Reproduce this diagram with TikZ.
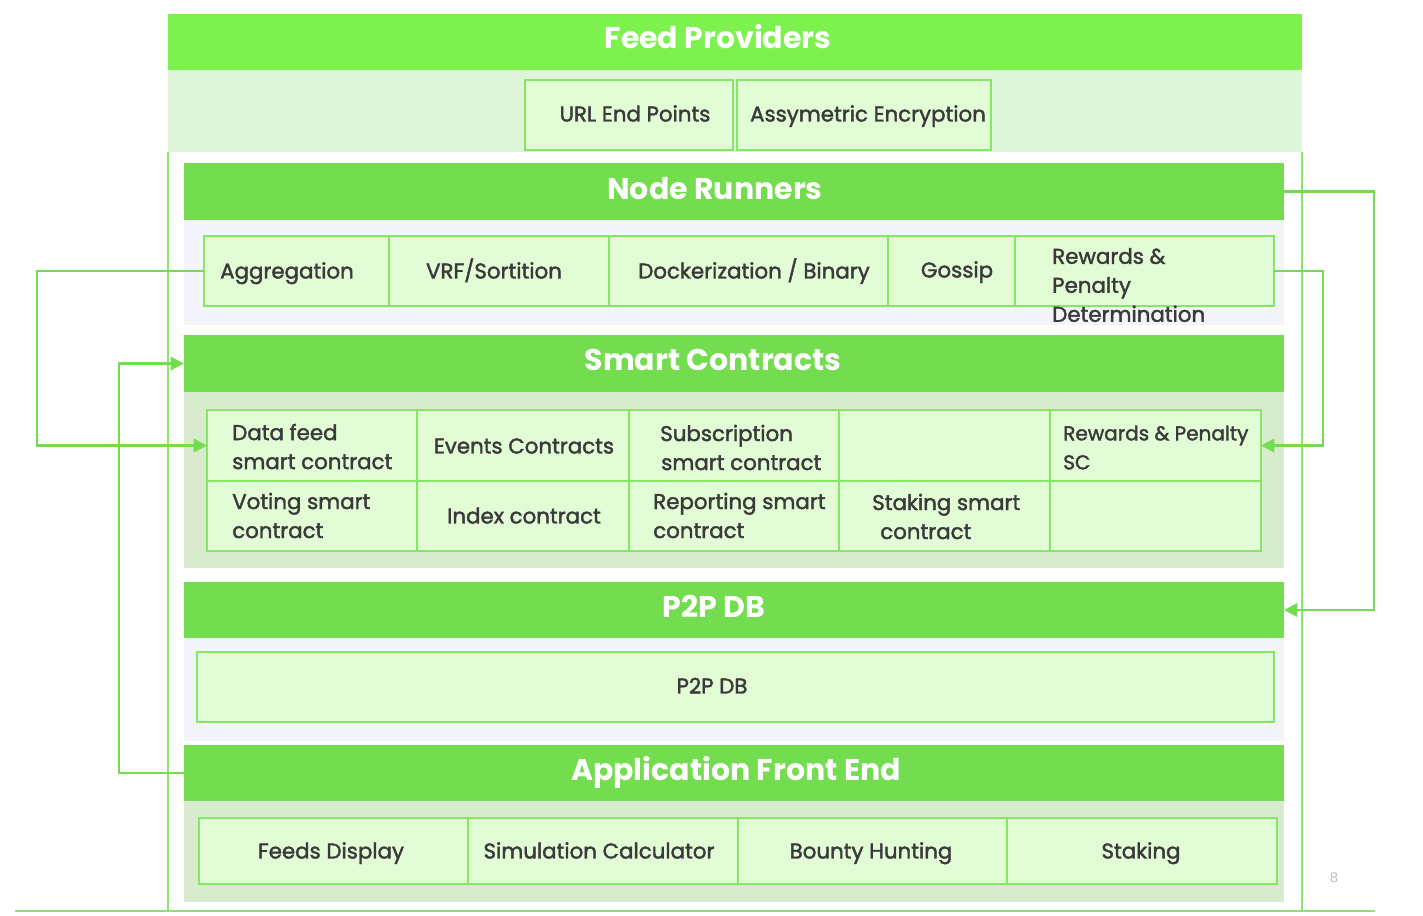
\documentclass[tikz,border=0pt]{standalone}
\usepackage{fontspec}
\setmainfont{Poppins}
\newfontfamily\medfont{Poppins}[FakeBold=1.8]
\usetikzlibrary{arrows.meta}
\definecolor{hdrA}{HTML}{7DF24F}
\definecolor{hdr}{HTML}{74DC4F}
\definecolor{bandA}{HTML}{DFF5D9}
\definecolor{bandL}{HTML}{F3F5FA}
\definecolor{bandG}{HTML}{D9EBCF}
\definecolor{cellF}{HTML}{E2FDD6}
\definecolor{cellD}{HTML}{86E766}
\definecolor{txt}{HTML}{3A3A3A}
\definecolor{lineG}{HTML}{74DC4F}
\definecolor{frameG}{HTML}{8CE470}
\newcommand{\bx}[7][]{\node[#1, anchor=north west, minimum width={(#5-#3)*0.75pt}, minimum height={(#6-#4)*0.75pt}] (#2) at (#3,#4) {#7};}
\tikzset{
  hdrbox/.style={fill=hdr, draw=none, inner sep=0pt, outer sep=0pt},
  band/.style={draw=none, inner sep=0pt, outer sep=0pt},
  cell/.style={fill=cellF, draw=cellD, line width=1.4pt, inner sep=0pt, outer sep=0pt, text=txt, text height=11.2pt, text depth=0pt, font=\medfont\fontsize{16}{21.75}\selectfont},
  hdrtxt/.style={text=white, inner sep=0pt, text height=16pt, text depth=0pt, font=\fontsize{22.5}{28}\selectfont\bfseries},
  ltxt/.style={anchor=west, align=left, inner sep=0pt, text=txt, font=\medfont\fontsize{16}{21.75}\selectfont},
  ctxt/.style={anchor=center, inner sep=0pt, text=txt, text height=11.2pt, text depth=0pt, font=\medfont\fontsize{16}{21.75}\selectfont},
  frameln/.style={draw=frameG, line width=1.3pt},
  conn/.style={draw=lineG, line width=2pt, -{Triangle[length=10pt,width=10pt]}}
}
\begin{document}
\begin{tikzpicture}[x=0.75pt, y=-0.75pt]
\useasboundingbox (0,0) rectangle (1423,915);
% Feed providers
\bx[hdrbox, fill=hdrA]{fp}{168}{14}{1302}{70}{}
\node[hdrtxt] (fpT) at (718,38) {Feed Providers};
\bx[band, fill=bandA]{fpband}{168}{70}{1302}{152}{}
\bx[cell]{url}{525}{80}{733}{150}{}
\node[ctxt] (urlT) at (635,114) {URL End Points};
\bx[cell]{enc}{737}{80}{991}{150}{}
\node[ctxt] (encT) at (868,114) {Assymetric Encryption};
% frame
\coordinate (fl) at (168,911);
\coordinate (fr) at (1302,911);
\coordinate (b1) at (15,911);
\coordinate (b2) at (1375,911);
\draw[frameln] (fpband.south west) -- (fl);
\draw[frameln] (fpband.south east) -- (fr);
\draw[frameln] (b1) -- (b2);
% Node runners
\bx[hdrbox]{nr}{184}{163}{1284}{220}{}
\node[hdrtxt] (nrT) at (715,189) {Node Runners};
\bx[band, fill=bandL]{nrband}{184}{220}{1284}{325}{}
\bx[cell]{agg}{204}{236}{389}{306}{}
\bx[cell]{vrf}{389}{236}{609}{306}{}
\bx[cell]{dock}{609}{236}{888}{306}{}
\bx[cell]{gos}{888}{236}{1015}{306}{}
\bx[cell]{rpd}{1015}{236}{1274}{306}{}
\node[ctxt] (aggT) at (287,271) {Aggregation};
\node[ctxt] (vrfT) at (494,271) {VRF/Sortition};
\node[ctxt] (dockT) at (754,271) {Dockerization / Binary};
\node[ctxt] (gosT) at (957,270) {Gossip};
\node[ltxt] (rpdT) at (1052,285) {Rewards \&\\Penalty\\Determination};
% Smart contracts
\bx[hdrbox]{sc}{184}{335}{1284}{392}{}
\node[hdrtxt] (scT) at (713,360) {Smart Contracts};
\bx[band, fill=bandG]{scband}{184}{392}{1284}{568}{}
\bx[cell]{sc11}{207}{410}{417}{481}{}
\bx[cell]{sc12}{417}{410}{629}{481}{}
\bx[cell]{sc13}{629}{410}{839}{481}{}
\bx[cell]{sc14}{839}{410}{1050}{481}{}
\bx[cell]{sc15}{1050}{410}{1261}{481}{}
\bx[cell]{sc21}{207}{481}{417}{551}{}
\bx[cell]{sc22}{417}{481}{629}{551}{}
\bx[cell]{sc23}{629}{481}{839}{551}{}
\bx[cell]{sc24}{839}{481}{1050}{551}{}
\bx[cell]{sc25}{1050}{481}{1261}{551}{}
\node[ctxt] (t12) at (524,446) {Events Contracts};
\node[ctxt] (t22) at (524,516) {Index contract};
\node[ltxt] (t11) at (232,446.5) {Data feed\\smart contract};
\node[ltxt] (t13) at (660,447.5) {Subscription\\\hspace{0.75pt}smart contract};
\node[ltxt, font=\medfont\fontsize{15}{21.75}\selectfont] (t15) at (1063,447.5) {Rewards \& Penalty\\SC};
\node[ltxt] (t21) at (232,515.5) {Voting smart\\contract};
\node[ltxt] (t23) at (653,515.5) {Reporting smart\\contract};
\node[ltxt] (t24) at (872,516.5) {Staking smart\\\hspace{6pt}contract};
% P2P DB
\bx[hdrbox]{p2p}{184}{582}{1284}{638}{}
\node[hdrtxt] (p2pT) at (714,607) {P2P DB};
\bx[band, fill=bandL]{p2pband}{184}{638}{1284}{741}{}
\bx[cell, line width=1pt]{p2pbox}{197}{652}{1274}{722}{}
\node[ctxt] (p2pboxT) at (712,686) {P2P DB};
% Application front end
\bx[hdrbox]{app}{184}{745}{1284}{801}{}
\node[hdrtxt] (appT) at (736,770) {Application Front End};
\bx[band, fill=bandG]{appband}{184}{801}{1284}{902}{}
\bx[cell]{fd}{199}{818}{468}{884}{}
\bx[cell]{sim}{468}{818}{738}{884}{}
\bx[cell]{bh}{738}{818}{1007}{884}{}
\bx[cell]{stk}{1007}{818}{1277}{884}{}
\node[ctxt] (fdT) at (331,851) {Feeds Display};
\node[ctxt] (simT) at (599,851) {Simulation Calculator};
\node[ctxt] (bhT) at (871,851) {Bounty Hunting};
\node[ctxt] (stkT) at (1141,851) {Staking};
\node[text=black!25, inner sep=0pt, font=\fontsize{10}{12}\selectfont] (pg) at (1334,878) {8};
% connectors
\coordinate (lx1) at (37,0);
\coordinate (lx2) at (119,0);
\coordinate (rx1) at (1323,0);
\coordinate (rx2) at (1374,0);
\draw[conn] (agg.west) -- (agg.west -| lx1) |- (sc11.west);
\draw[conn] (app.west) -- (app.west -| lx2) |- (sc.west);
\draw[conn] (rpd.east) -- (rpd.east -| rx1) |- (sc15.east);
\draw[conn] (nr.east) -- (nr.east -| rx2) |- (p2p.east);
\end{tikzpicture}
\end{document}
